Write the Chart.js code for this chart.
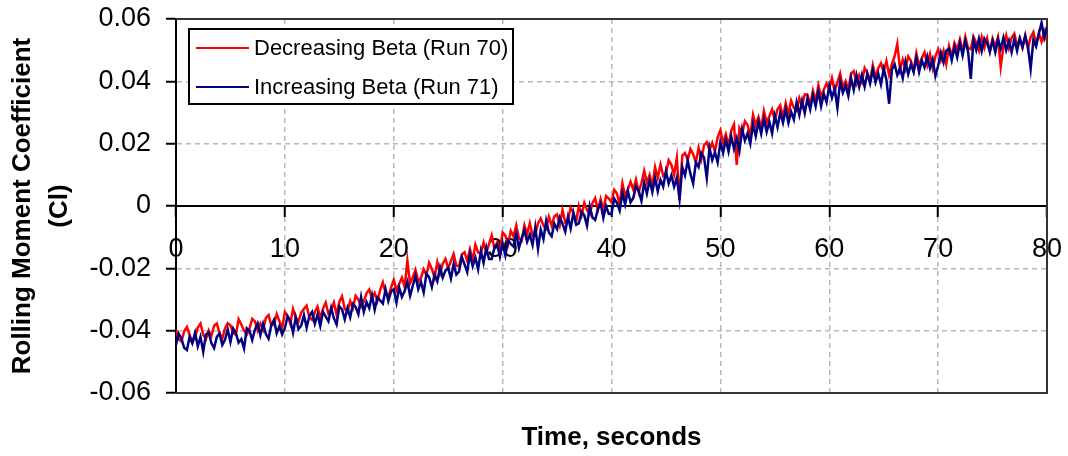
<!DOCTYPE html>
<html>
<head>
<meta charset="utf-8">
<title>Rolling Moment Coefficient</title>
<script src="https://cdn.jsdelivr.net/npm/chart.js@4.4.1/dist/chart.umd.min.js"></script>
<style>
  html, body { margin: 0; padding: 0; background: #fff; }
  canvas { display: block; }
</style>
</head>
<body>
<canvas id="canvas" width="1068" height="456"></canvas>
<script>
// Echantillons tous les 0.25 s, de 0 a 80 s
const timeStep = 0.25;

const seriesNames = ["Decreasing Beta (Run 70)", "Increasing Beta (Run 71)"];
const xTickLabels = ["0", "10", "20", "30", "40", "50", "60", "70", "80"];
const yTickLabels = ["-0.06", "-0.04", "-0.02", "0", "0.02", "0.04", "0.06"];
const yTitle = ["Rolling Moment Coefficient", "(Cl)"];
const xTitle = "Time, seconds";

// Run 70 (une ligne = 4 s)
const decreasingBeta = [
  -0.0398,-0.0428,-0.0435,-0.0402,-0.0388,-0.0413,-0.0438,-0.0420,-0.0390,-0.0377,-0.0413,-0.0427,-0.0399,-0.0417,-0.0384,-0.0377,
  -0.0408,-0.0426,-0.0393,-0.0376,-0.0383,-0.0408,-0.0413,-0.0363,-0.0380,-0.0400,-0.0413,-0.0393,-0.0362,-0.0370,-0.0400,-0.0377,
  -0.0397,-0.0360,-0.0350,-0.0383,-0.0381,-0.0347,-0.0370,-0.0392,-0.0340,-0.0352,-0.0378,-0.0330,-0.0358,-0.0370,-0.0342,-0.0330,
  -0.0320,-0.0357,-0.0365,-0.0340,-0.0323,-0.0360,-0.0330,-0.0310,-0.0345,-0.0335,-0.0310,-0.0348,-0.0308,-0.0290,-0.0330,-0.0340,
  -0.0305,-0.0328,-0.0288,-0.0300,-0.0323,-0.0306,-0.0280,-0.0268,-0.0297,-0.0279,-0.0305,-0.0270,-0.0245,-0.0280,-0.0292,-0.0262,
  -0.0237,-0.0270,-0.0250,-0.0230,-0.0260,-0.0175,-0.0248,-0.0228,-0.0205,-0.0243,-0.0230,-0.0203,-0.0222,-0.0182,-0.0202,-0.0230,
  -0.0180,-0.0217,-0.0185,-0.0170,-0.0200,-0.0177,-0.0154,-0.0192,-0.0193,-0.0156,-0.0148,-0.0176,-0.0139,-0.0174,-0.0124,-0.0149,
  -0.0152,-0.0118,-0.0148,-0.0122,-0.0094,-0.0137,-0.0117,-0.0144,-0.0085,-0.0095,-0.0123,-0.0080,-0.0097,-0.0062,-0.0104,-0.0112,
  -0.0062,-0.0090,-0.0055,-0.0095,-0.0090,-0.0056,-0.0040,-0.0063,-0.0073,-0.0035,-0.0063,-0.0033,-0.0027,-0.0062,-0.0012,-0.0052,
  -0.0045,-0.0005,-0.0022,-0.0050,0.0000,-0.0030,0.0010,-0.0013,-0.0027,0.0010,0.0025,-0.0013,0.0022,-0.0013,0.0032,0.0024,
  0.0012,0.0052,0.0040,0.0005,0.0073,0.0033,0.0053,0.0078,0.0053,0.0085,0.0045,0.0073,0.0113,0.0075,0.0100,0.0063,
  0.0125,0.0090,0.0133,0.0097,0.0104,0.0147,0.0132,0.0100,0.0155,0.0020,0.0162,0.0170,0.0148,0.0183,0.0166,0.0140,
  0.0187,0.0150,0.0195,0.0205,0.0180,0.0203,0.0175,0.0220,0.0243,0.0203,0.0230,0.0193,0.0242,0.0262,0.0132,0.0250,
  0.0232,0.0272,0.0260,0.0225,0.0293,0.0260,0.0285,0.0250,0.0305,0.0268,0.0288,0.0310,0.0275,0.0310,0.0323,0.0285,
  0.0330,0.0295,0.0338,0.0315,0.0306,0.0346,0.0320,0.0358,0.0357,0.0325,0.0370,0.0335,0.0387,0.0350,0.0373,0.0393,
  0.0375,0.0410,0.0367,0.0397,0.0425,0.0380,0.0400,0.0373,0.0425,0.0433,0.0393,0.0420,0.0398,0.0443,0.0426,0.0403,
  0.0452,0.0412,0.0442,0.0458,0.0430,0.0465,0.0420,0.0455,0.0480,0.0520,0.0438,0.0470,0.0440,0.0480,0.0466,0.0433,
  0.0490,0.0450,0.0475,0.0493,0.0452,0.0487,0.0442,0.0480,0.0502,0.0468,0.0498,0.0455,0.0513,0.0480,0.0523,0.0503,
  0.0535,0.0493,0.0543,0.0507,0.0503,0.0543,0.0523,0.0498,0.0542,0.0508,0.0538,0.0495,0.0537,0.0512,0.0542,0.0447,
  0.0513,0.0547,0.0507,0.0540,0.0553,0.0513,0.0538,0.0508,0.0548,0.0505,0.0542,0.0558,0.0520,0.0555,0.0527,0.0560,
  0.0530
];

// Run 71 (une ligne = 4 s)
const increasingBeta = [
  -0.0445,-0.0410,-0.0425,-0.0455,-0.0462,-0.0420,-0.0440,-0.0407,-0.0450,-0.0420,-0.0468,-0.0412,-0.0406,-0.0440,-0.0456,-0.0420,
  -0.0409,-0.0446,-0.0429,-0.0396,-0.0436,-0.0393,-0.0408,-0.0438,-0.0427,-0.0457,-0.0392,-0.0400,-0.0430,-0.0397,-0.0377,-0.0415,
  -0.0378,-0.0410,-0.0426,-0.0383,-0.0365,-0.0408,-0.0385,-0.0412,-0.0392,-0.0354,-0.0367,-0.0407,-0.0357,-0.0395,-0.0383,-0.0350,
  -0.0390,-0.0353,-0.0340,-0.0378,-0.0348,-0.0385,-0.0340,-0.0355,-0.0370,-0.0327,-0.0360,-0.0380,-0.0322,-0.0332,-0.0364,-0.0327,
  -0.0357,-0.0314,-0.0324,-0.0347,-0.0292,-0.0340,-0.0308,-0.0328,-0.0286,-0.0333,-0.0293,-0.0303,-0.0313,-0.0267,-0.0305,-0.0275,
  -0.0267,-0.0310,-0.0262,-0.0292,-0.0273,-0.0243,-0.0288,-0.0256,-0.0224,-0.0267,-0.0244,-0.0277,-0.0218,-0.0228,-0.0260,-0.0220,
  -0.0242,-0.0197,-0.0230,-0.0207,-0.0198,-0.0233,-0.0186,-0.0220,-0.0210,-0.0164,-0.0187,-0.0212,-0.0153,-0.0193,-0.0166,-0.0203,
  -0.0144,-0.0182,-0.0134,-0.0170,-0.0170,-0.0133,-0.0123,-0.0163,-0.0120,-0.0158,-0.0110,-0.0122,-0.0130,-0.0090,-0.0135,-0.0103,
  -0.0078,-0.0115,-0.0092,-0.0125,-0.0068,-0.0138,-0.0076,-0.0106,-0.0047,-0.0085,-0.0097,-0.0057,-0.0074,-0.0037,-0.0057,-0.0082,
  -0.0035,-0.0072,-0.0022,-0.0060,-0.0056,-0.0018,-0.0030,-0.0063,0.0000,-0.0037,-0.0045,-0.0010,0.0008,-0.0038,0.0000,-0.0025,
  -0.0026,0.0023,0.0010,-0.0015,0.0042,0.0005,0.0048,0.0012,0.0026,0.0063,0.0048,0.0016,0.0075,0.0040,0.0083,0.0045,
  0.0090,0.0047,0.0084,0.0062,0.0112,0.0072,0.0098,0.0062,0.0090,0.0022,0.0125,0.0098,0.0146,0.0103,0.0072,0.0140,
  0.0125,0.0170,0.0155,0.0090,0.0187,0.0147,0.0173,0.0140,0.0205,0.0170,0.0213,0.0175,0.0223,0.0183,0.0217,0.0177,
  0.0247,0.0210,0.0233,0.0200,0.0262,0.0224,0.0270,0.0232,0.0280,0.0238,0.0270,0.0233,0.0290,0.0253,0.0300,0.0267,
  0.0310,0.0267,0.0302,0.0277,0.0332,0.0292,0.0338,0.0298,0.0345,0.0310,0.0355,0.0320,0.0368,0.0320,0.0360,0.0333,
  0.0385,0.0347,0.0377,0.0315,0.0400,0.0363,0.0386,0.0353,0.0410,0.0372,0.0420,0.0382,0.0420,0.0383,0.0425,0.0393,
  0.0437,0.0397,0.0425,0.0390,0.0440,0.0405,0.0328,0.0437,0.0455,0.0420,0.0443,0.0410,0.0463,0.0423,0.0455,0.0430,
  0.0475,0.0430,0.0467,0.0445,0.0480,0.0442,0.0470,0.0417,0.0450,0.0492,0.0460,0.0498,0.0505,0.0467,0.0510,0.0477,
  0.0523,0.0483,0.0530,0.0495,0.0408,0.0532,0.0500,0.0537,0.0497,0.0537,0.0523,0.0495,0.0530,0.0493,0.0535,0.0505,
  0.0540,0.0500,0.0530,0.0493,0.0535,0.0498,0.0538,0.0510,0.0545,0.0510,0.0440,0.0533,0.0512,0.0552,0.0588,0.0540,
  0.0575
];

const seriesColors = ["#ff0000", "#000080"];
const fontFamily = "'Liberation Sans', Arial, sans-serif";

function toPoints(values) {
    return values.map((v, i) => ({ x: i * timeStep, y: v }));
}

// Les etiquettes ne doivent pas decaler la zone de trace
function fixScale(scale, size) {
    if (scale.isHorizontal()) {
        scale.height = size;
    } else {
        scale.width = size;
    }
    scale.paddingTop = 0;
    scale.paddingBottom = 0;
    scale.paddingLeft = 0;
    scale.paddingRight = 0;
}

// Cadre du graphe (haut, droite, bas)
const framePlugin = {
    id: "frame",
    beforeDatasetsDraw(chart) {
        const { ctx, chartArea: a } = chart;
        ctx.save();
        ctx.strokeStyle = "#333";
        ctx.lineWidth = 2;
        ctx.beginPath();
        ctx.moveTo(a.left, a.top);
        ctx.lineTo(a.right, a.top);
        ctx.lineTo(a.right, a.bottom);
        ctx.lineTo(a.left, a.bottom);
        ctx.stroke();
        ctx.restore();
    }
};

// Legende dans le coin haut gauche + titre de l'axe des x
const legendPlugin = {
    id: "boxLegend",
    afterDraw(chart) {
        const ctx = chart.ctx;
        ctx.save();
        ctx.fillStyle = "#fff";
        ctx.fillRect(189, 29, 324, 75);
        ctx.strokeStyle = "#000";
        ctx.lineWidth = 2;
        ctx.strokeRect(189, 29, 324, 75);

        const rows = [48, 87];
        ctx.font = "22px " + fontFamily;
        ctx.textBaseline = "middle";
        ctx.textAlign = "left";
        chart.data.datasets.forEach((ds, i) => {
            ctx.strokeStyle = ds.borderColor;
            ctx.lineWidth = 2;
            ctx.beginPath();
            ctx.moveTo(196, rows[i]);
            ctx.lineTo(249, rows[i]);
            ctx.stroke();
            ctx.fillStyle = "#000";
            ctx.fillText(ds.label, 254, rows[i] + 1);
        });

        const a = chart.chartArea;
        ctx.font = "bold 26px " + fontFamily;
        ctx.textAlign = "center";
        ctx.textBaseline = "alphabetic";
        ctx.fillText(xTitle, (a.left + a.right) / 2, 445);
        ctx.restore();
    }
};

const gridOptions = {
    color: "#b8b8b8",
    lineWidth: 1.5,
    tickLength: 10,
    tickColor: "#000",
    tickWidth: 2,
    tickBorderDash: []
};

new Chart(document.getElementById("canvas"), {
    type: "line",
    data: {
        datasets: [
            {
                label: seriesNames[0],
                data: toPoints(decreasingBeta),
                borderColor: seriesColors[0],
                borderWidth: 2.5,
                pointRadius: 0,
                tension: 0,
                order: 1
            },
            {
                label: seriesNames[1],
                data: toPoints(increasingBeta),
                borderColor: seriesColors[1],
                borderWidth: 2.5,
                pointRadius: 0,
                tension: 0,
                order: 0
            }
        ]
    },
    options: {
        responsive: false,
        animation: false,
        events: [],
        layout: { padding: { top: 19, right: 21, bottom: 63, left: 0 } },
        plugins: {
            legend: { display: false },
            tooltip: { enabled: false }
        },
        scales: {
            x: {
                type: "linear",
                position: { y: 0 },
                min: 0,
                max: 80,
                afterFit: (scale) => fixScale(scale, 0),
                ticks: {
                    stepSize: 10,
                    autoSkip: false,
                    maxRotation: 0,
                    padding: 17,
                    color: "#000",
                    font: { family: fontFamily, size: 27 },
                    callback: (value, index) => xTickLabels[index]
                },
                grid: gridOptions,
                border: { color: "#000", width: 2, dash: [5, 4] }
            },
            y: {
                min: -0.06,
                max: 0.06,
                afterFit: (scale) => fixScale(scale, 176),
                ticks: {
                    stepSize: 0.02,
                    padding: 15,
                    color: "#000",
                    font: { family: fontFamily, size: 27 },
                    callback: (value, index) => yTickLabels[index]
                },
                grid: gridOptions,
                border: { color: "#000", width: 2, dash: [5, 4] },
                title: {
                    display: true,
                    text: yTitle,
                    color: "#000",
                    padding: { top: 5, bottom: 0 },
                    font: { family: fontFamily, size: 26, weight: "bold", lineHeight: 1.4 }
                }
            }
        }
    },
    plugins: [framePlugin, legendPlugin]
});
</script>
</body>
</html>
